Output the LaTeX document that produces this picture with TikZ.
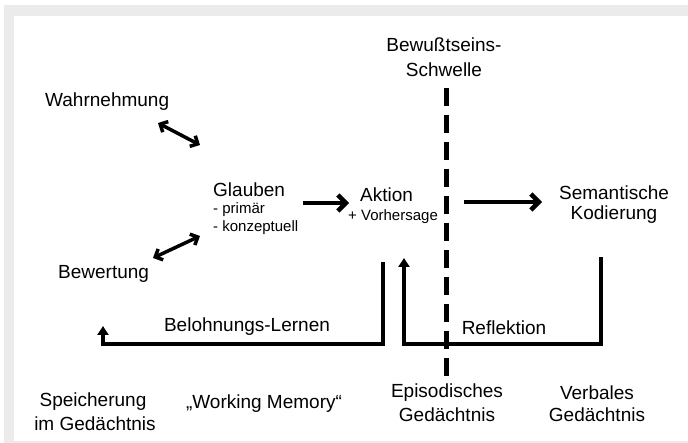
\documentclass[tikz,border=0pt]{standalone}
\usepackage{fontspec}
\setmainfont{Liberation Sans}
\usetikzlibrary{arrows.meta}

\tikzset{
	big/.style={font=\fontsize{19}{22}\selectfont},
	small/.style={font=\fontsize{15}{18}\selectfont},
	harrow/.style={line width=4.5pt,-{Straight Barb[length=8pt,width=16pt]}},
	dblarrow/.style={line width=3.5pt,{Straight Barb[length=6pt,width=12pt]}-{Straight Barb[length=6pt,width=12pt]}},
	loopline/.style={line width=4pt,-{Triangle[length=9pt,width=11pt]}},
}

\begin{document}
\begin{tikzpicture}[x=1pt,y=-1pt,every node/.style={black,inner sep=0pt,big}]
	\fill[black!8] (4,5) rectangle (688,443);
	\fill[white] (14,16) rectangle (688,441);
	\useasboundingbox (0,0) rectangle (688,443);

	\node (schwelle1) at (444,45) {Bewußtseins-};
	\node (schwelle2) at (444,70) {Schwelle};
	\node[anchor=west] (wahrnehmung) at (45,102) {Wahrnehmung};
	\node[anchor=west] (glauben) at (213,190) {Glauben};
	\node[anchor=west,small] (primaer) at (213,210) {- primär};
	\node[anchor=west,small] (konzeptuell) at (213,228) {- konzeptuell};
	\node[anchor=west] (aktion) at (360,195) {Aktion};
	\node[anchor=west,small] (vorhersage) at (348,217) {+ Vorhersage};
	\node (semantisch) at (614,193) {Semantische};
	\node (kodierung) at (614,215) {Kodierung};
	\node[anchor=west] (bewertung) at (58,274) {Bewertung};
	\node (belohnung) at (247,327) {Belohnungs-Lernen};
	\node (reflektion) at (504,328) {Reflektion};
	\node (speicherung) at (93,402) {Speicherung};
	\node (gedaechtnis) at (95,424) {im Gedächtnis};
	\node (working) at (264,404) {„Working Memory“};
	\node (episodisch) at (447,393) {Episodisches};
	\node (episodischg) at (447,415) {Gedächtnis};
	\node (verbal) at (597,393) {Verbales};
	\node (verbalg) at (597,415) {Gedächtnis};

	\coordinate (w0) at (158,123);
	\coordinate (w1) at (200,145);
	\coordinate (b0) at (153,258);
	\coordinate (b1) at (200,236);
	\coordinate (g0) at (303,203);
	\coordinate (g1) at (349,203);
	\coordinate (a0) at (464,202);
	\coordinate (a1) at (542,202);
	\coordinate (s0) at (446,88);
	\coordinate (s1) at (446,376);
	\coordinate (l0) at (383,262);
	\coordinate (l1) at (103,344);
	\coordinate (l2) at (103,326);
	\coordinate (r0) at (601,257);
	\coordinate (r1) at (404,344);
	\coordinate (r2) at (404,258);

	\draw[dblarrow] (w0)--(w1);
	\draw[dblarrow] (b0)--(b1);
	\draw[harrow] (g0)--(g1);
	\draw[harrow] (a0)--(a1);

	\draw[line width=5pt,dash pattern=on 18pt off 9pt] (s0)--(s1);

	\draw[loopline] (l0) |- (l1) -- (l2);
	\draw[loopline] (r0) |- (r1) -- (r2);
\end{tikzpicture}
\end{document}
